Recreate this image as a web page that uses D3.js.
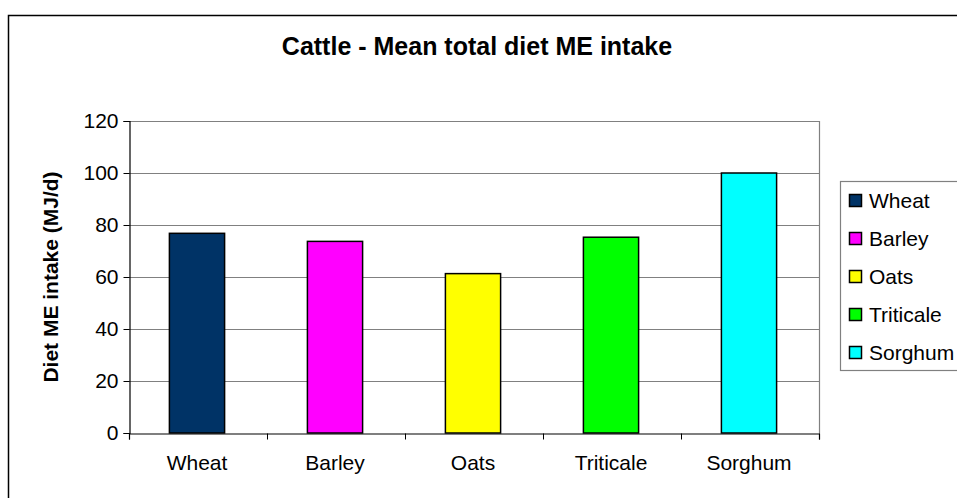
<!DOCTYPE html>
<html>
<head>
<meta charset="utf-8">
<script src="https://cdn.jsdelivr.net/npm/d3@7"></script>
<style>
  html, body { margin: 0; padding: 0; background: #fff; }
  svg { display: block; font-family: "Liberation Sans", Arial, sans-serif; }
</style>
</head>
<body>
<svg id="chart" width="957" height="498"></svg>
<script>
// Mean total diet ME intake by grain type (MJ/d)
const categories = ["Wheat", "Barley", "Oats", "Triticale", "Sorghum"];
const values = [76.8, 73.7, 61.3, 75.3, 100];
const colors = ["#003366", "#FF00FF", "#FFFF00", "#00FF00", "#00FFFF"];
const yTicks = [0, 20, 40, 60, 80, 100, 120];

const svg = d3.select("#chart");
const W = 957, H = 498;
const plot = { left: 129, right: 819, top: 121, bottom: 433 };

// Outer chart frame (runs past the right and bottom edges)
svg.append("rect")
  .attr("x", 8.5).attr("y", 15.5)
  .attr("width", W + 20).attr("height", H + 20)
  .attr("fill", "#fff").attr("stroke", "#000").attr("stroke-width", 1.5);

const x = d3.scaleBand().domain(categories).range([plot.left, plot.right]).paddingInner(0.6).paddingOuter(0.3);
const xTickScale = d3.scaleLinear().domain([0, categories.length]).range([plot.left, plot.right]);
const y = d3.scaleLinear().domain([0, 120]).range([plot.bottom, plot.top]);

// Horizontal gridlines
svg.append("g").selectAll("line").data(yTicks.filter(d => d > 0)).join("line")
  .attr("x1", plot.left).attr("x2", plot.right)
  .attr("y1", d => Math.round(y(d)) + 0.5).attr("y2", d => Math.round(y(d)) + 0.5)
  .attr("stroke", "#808080").attr("stroke-width", 1.2);

// Right edge of the plot area
svg.append("line")
  .attr("x1", plot.right + 0.5).attr("x2", plot.right + 0.5)
  .attr("y1", plot.top).attr("y2", plot.bottom)
  .attr("stroke", "#808080").attr("stroke-width", 1.2);

// Bars
svg.append("g").selectAll("rect").data(categories).join("rect")
  .attr("x", d => x(d) - 1)
  .attr("y", (d, i) => y(values[i]))
  .attr("width", x.bandwidth())
  .attr("height", (d, i) => y(0) - y(values[i]))
  .attr("fill", (d, i) => colors[i])
  .attr("stroke", "#000").attr("stroke-width", 1.5);

// Y axis
const yAxis = svg.append("g")
  .attr("transform", `translate(${plot.left + 0.5},0)`)
  .call(d3.axisLeft(y).tickValues(yTicks).tickSize(6).tickPadding(5).tickFormat(d3.format("d")));
yAxis.select(".domain").attr("stroke", "#000").attr("stroke-width", 1.2);
yAxis.selectAll(".tick line").attr("stroke", "#000");
yAxis.selectAll("text").attr("font-size", 21).attr("fill", "#000")
  .attr("font-family", "'Liberation Sans', Arial, sans-serif");

// X axis: ticks sit on the category boundaries
const xAxis = svg.append("g")
  .attr("transform", `translate(0,${plot.bottom + 0.5})`)
  .call(d3.axisBottom(xTickScale).ticks(categories.length).tickSize(6).tickFormat(""));
xAxis.select(".domain").attr("stroke", "#000").attr("stroke-width", 1.2);
xAxis.selectAll(".tick line").attr("stroke", "#000");

// Category labels
svg.append("g").selectAll("text").data(categories).join("text")
  .attr("x", d => x(d) + x.bandwidth() / 2 - 1)
  .attr("y", 470)
  .attr("text-anchor", "middle")
  .attr("font-size", 21)
  .text(d => d);

// Title
svg.append("text")
  .attr("x", 477).attr("y", 55)
  .attr("text-anchor", "middle")
  .attr("font-size", 25).attr("font-weight", "bold")
  .text("Cattle - Mean total diet ME intake");

// Y axis title
svg.append("text")
  .attr("transform", `translate(58,277) rotate(-90)`)
  .attr("text-anchor", "middle")
  .attr("font-size", 21).attr("font-weight", "bold")
  .text("Diet ME intake (MJ/d)");

// Legend
const legend = svg.append("g");
legend.append("rect")
  .attr("x", 840.5).attr("y", 181.5)
  .attr("width", 140).attr("height", 189)
  .attr("fill", "#fff").attr("stroke", "#808080").attr("stroke-width", 1.2);
const items = legend.selectAll("g.item").data(categories).join("g")
  .attr("class", "item")
  .attr("transform", (d, i) => `translate(849,${200 + i * 38})`);
items.append("rect")
  .attr("x", 0.5).attr("y", -5.5).attr("width", 12).attr("height", 12)
  .attr("fill", (d, i) => colors[i]).attr("stroke", "#000").attr("stroke-width", 1.5);
items.append("text")
  .attr("x", 20).attr("y", 7.5)
  .attr("font-size", 21)
  .text(d => d);
</script>
</body>
</html>
